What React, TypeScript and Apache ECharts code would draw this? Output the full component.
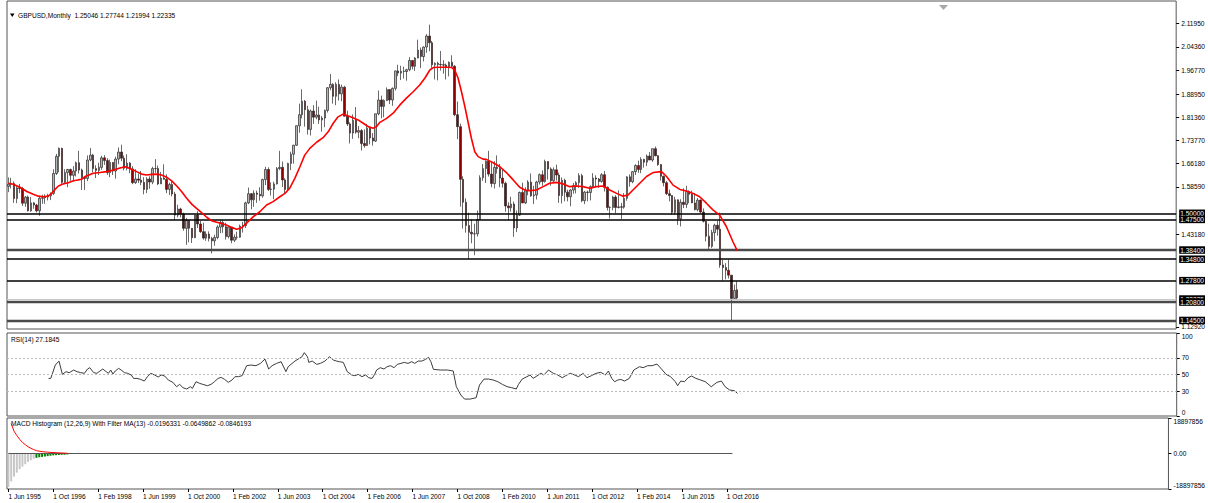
import React, { useEffect, useRef } from 'react';
import * as echarts from 'echarts';

// ---------- DATA (monthly GBPUSD, [open, high, low, close]) ----------
const y1995 = [
  [1.588, 1.617, 1.569, 1.595], [1.595, 1.616, 1.581, 1.597], [1.597, 1.604, 1.534, 1.548],
  [1.548, 1.588, 1.533, 1.583], [1.583, 1.596, 1.566, 1.581], [1.581, 1.586, 1.524, 1.533],
  [1.533, 1.556, 1.521, 1.553],
];
const y1996 = [
  [1.553, 1.558, 1.506, 1.508], [1.508, 1.553, 1.505, 1.534], [1.534, 1.537, 1.515, 1.527],
  [1.527, 1.531, 1.503, 1.508], [1.508, 1.553, 1.492, 1.549], [1.549, 1.561, 1.531, 1.551],
  [1.551, 1.562, 1.531, 1.553], [1.553, 1.564, 1.542, 1.557], [1.557, 1.568, 1.543, 1.565],
  [1.565, 1.644, 1.560, 1.630], [1.630, 1.694, 1.625, 1.686], [1.686, 1.715, 1.634, 1.712],
];
const y1997 = [
  [1.712, 1.714, 1.596, 1.601], [1.601, 1.644, 1.598, 1.633], [1.633, 1.645, 1.585, 1.643],
  [1.643, 1.646, 1.606, 1.624], [1.624, 1.654, 1.604, 1.638], [1.638, 1.669, 1.620, 1.665],
  [1.665, 1.704, 1.630, 1.641], [1.641, 1.646, 1.576, 1.617], [1.617, 1.620, 1.576, 1.614],
  [1.614, 1.689, 1.605, 1.674], [1.674, 1.713, 1.670, 1.690], [1.690, 1.694, 1.634, 1.646],
];
const y1998 = [
  [1.646, 1.657, 1.615, 1.640], [1.640, 1.665, 1.625, 1.650], [1.650, 1.688, 1.642, 1.681],
  [1.681, 1.690, 1.658, 1.672], [1.672, 1.680, 1.625, 1.633], [1.633, 1.675, 1.618, 1.666],
  [1.666, 1.667, 1.625, 1.638], [1.638, 1.685, 1.613, 1.677], [1.677, 1.715, 1.660, 1.700],
  [1.700, 1.724, 1.670, 1.680], [1.680, 1.689, 1.640, 1.647], [1.647, 1.693, 1.640, 1.664],
];
const y1999 = [
  [1.664, 1.667, 1.631, 1.645], [1.645, 1.654, 1.595, 1.600], [1.600, 1.644, 1.596, 1.612],
  [1.612, 1.630, 1.599, 1.608], [1.608, 1.638, 1.592, 1.601], [1.601, 1.618, 1.562, 1.578],
  [1.578, 1.618, 1.566, 1.612], [1.612, 1.621, 1.580, 1.602], [1.602, 1.652, 1.595, 1.646],
  [1.646, 1.677, 1.632, 1.646], [1.646, 1.656, 1.592, 1.596], [1.596, 1.635, 1.596, 1.615],
];
const y2000 = [
  [1.615, 1.660, 1.610, 1.611], [1.611, 1.627, 1.566, 1.578], [1.578, 1.600, 1.560, 1.594],
  [1.594, 1.603, 1.555, 1.563], [1.563, 1.570, 1.478, 1.494], [1.494, 1.528, 1.487, 1.514],
  [1.514, 1.518, 1.487, 1.498], [1.498, 1.502, 1.443, 1.451], [1.451, 1.485, 1.397, 1.477],
  [1.477, 1.478, 1.405, 1.451], [1.451, 1.451, 1.403, 1.420], [1.420, 1.495, 1.420, 1.494],
];
const y2001 = [
  [1.494, 1.507, 1.452, 1.465], [1.465, 1.475, 1.436, 1.440], [1.440, 1.469, 1.414, 1.419],
  [1.419, 1.441, 1.410, 1.432], [1.432, 1.441, 1.408, 1.418], [1.418, 1.423, 1.369, 1.410],
  [1.410, 1.430, 1.394, 1.421], [1.421, 1.461, 1.415, 1.455], [1.455, 1.478, 1.435, 1.470],
  [1.470, 1.477, 1.436, 1.456], [1.456, 1.469, 1.414, 1.424], [1.424, 1.459, 1.418, 1.455],
];
const y2002 = [
  [1.455, 1.455, 1.402, 1.412], [1.412, 1.431, 1.406, 1.422], [1.422, 1.440, 1.414, 1.422],
  [1.422, 1.463, 1.420, 1.458], [1.458, 1.472, 1.437, 1.460], [1.460, 1.538, 1.452, 1.534],
  [1.534, 1.584, 1.530, 1.564], [1.564, 1.566, 1.513, 1.544], [1.544, 1.575, 1.521, 1.566],
  [1.566, 1.574, 1.534, 1.562], [1.562, 1.585, 1.541, 1.557], [1.557, 1.613, 1.551, 1.610],
];
const y2003 = [
  [1.610, 1.652, 1.592, 1.643], [1.643, 1.650, 1.573, 1.578], [1.578, 1.601, 1.558, 1.579],
  [1.579, 1.603, 1.546, 1.596], [1.596, 1.651, 1.594, 1.646], [1.646, 1.704, 1.641, 1.650],
  [1.650, 1.669, 1.586, 1.609], [1.609, 1.615, 1.565, 1.578], [1.578, 1.665, 1.575, 1.663],
  [1.663, 1.701, 1.641, 1.693], [1.693, 1.724, 1.662, 1.722], [1.722, 1.787, 1.720, 1.786],
];
const y2004 = [
  [1.786, 1.858, 1.763, 1.822], [1.822, 1.905, 1.810, 1.866], [1.866, 1.870, 1.783, 1.838],
  [1.838, 1.851, 1.757, 1.774], [1.774, 1.839, 1.754, 1.834], [1.834, 1.853, 1.792, 1.814],
  [1.814, 1.868, 1.807, 1.821], [1.821, 1.848, 1.792, 1.805], [1.805, 1.818, 1.767, 1.811],
  [1.811, 1.839, 1.781, 1.836], [1.836, 1.912, 1.829, 1.910], [1.910, 1.955, 1.902, 1.921],
];
const y2005 = [
  [1.921, 1.925, 1.858, 1.882], [1.882, 1.928, 1.853, 1.921], [1.921, 1.937, 1.868, 1.890],
  [1.890, 1.920, 1.866, 1.912], [1.912, 1.916, 1.817, 1.817], [1.817, 1.835, 1.785, 1.792],
  [1.792, 1.797, 1.728, 1.762], [1.762, 1.823, 1.743, 1.804], [1.804, 1.847, 1.760, 1.765],
  [1.765, 1.785, 1.745, 1.770], [1.770, 1.775, 1.705, 1.728], [1.728, 1.774, 1.714, 1.721],
];
const y2006 = [
  [1.721, 1.792, 1.720, 1.778], [1.778, 1.780, 1.725, 1.746], [1.746, 1.762, 1.721, 1.736],
  [1.736, 1.825, 1.733, 1.825], [1.825, 1.901, 1.820, 1.870], [1.870, 1.884, 1.810, 1.849],
  [1.849, 1.872, 1.814, 1.868], [1.868, 1.911, 1.867, 1.904], [1.904, 1.905, 1.857, 1.870],
  [1.870, 1.911, 1.851, 1.908], [1.908, 1.966, 1.901, 1.965], [1.965, 1.985, 1.948, 1.958],
];
const y2007 = [
  [1.958, 1.982, 1.935, 1.964], [1.964, 1.979, 1.940, 1.963], [1.963, 1.972, 1.933, 1.969],
  [1.969, 2.010, 1.964, 1.999], [1.999, 2.000, 1.970, 1.980], [1.980, 2.010, 1.965, 2.007],
  [2.007, 2.067, 2.006, 2.033], [2.033, 2.041, 1.974, 2.012], [2.012, 2.045, 1.996, 2.043],
  [2.043, 2.085, 2.024, 2.079], [2.079, 2.116, 2.029, 2.057], [2.057, 2.063, 1.975, 1.985],
];
const y2008 = [
  [1.985, 1.993, 1.937, 1.990], [1.990, 1.995, 1.934, 1.986], [1.986, 2.030, 1.966, 1.985],
  [1.985, 2.000, 1.956, 1.984], [1.984, 1.989, 1.937, 1.978], [1.978, 1.996, 1.947, 1.993],
  [1.993, 2.016, 1.975, 1.980], [1.980, 1.984, 1.817, 1.822], [1.822, 1.865, 1.742, 1.783],
  [1.783, 1.793, 1.522, 1.611], [1.611, 1.621, 1.450, 1.536], [1.536, 1.549, 1.437, 1.460],
];
const y2009 = [
  [1.460, 1.502, 1.350, 1.438], [1.438, 1.481, 1.402, 1.433], [1.433, 1.466, 1.363, 1.433],
  [1.433, 1.509, 1.424, 1.480], [1.480, 1.624, 1.478, 1.616], [1.616, 1.661, 1.606, 1.646],
  [1.646, 1.673, 1.599, 1.670], [1.670, 1.704, 1.620, 1.628], [1.628, 1.666, 1.585, 1.597],
  [1.597, 1.670, 1.581, 1.650], [1.650, 1.689, 1.630, 1.646], [1.646, 1.661, 1.585, 1.615],
];
const y2010 = [
  [1.615, 1.644, 1.584, 1.598], [1.598, 1.603, 1.505, 1.524], [1.524, 1.536, 1.477, 1.518],
  [1.518, 1.554, 1.505, 1.530], [1.530, 1.538, 1.423, 1.452], [1.452, 1.509, 1.439, 1.494],
  [1.494, 1.571, 1.491, 1.568], [1.568, 1.600, 1.534, 1.534], [1.534, 1.585, 1.530, 1.573],
  [1.573, 1.608, 1.559, 1.602], [1.602, 1.630, 1.554, 1.557], [1.557, 1.590, 1.530, 1.560],
];
const y2011 = [
  [1.560, 1.606, 1.545, 1.602], [1.602, 1.630, 1.594, 1.626], [1.626, 1.640, 1.590, 1.604],
  [1.604, 1.675, 1.600, 1.669], [1.669, 1.670, 1.610, 1.645], [1.645, 1.650, 1.590, 1.606],
  [1.606, 1.650, 1.598, 1.642], [1.642, 1.659, 1.607, 1.625], [1.625, 1.633, 1.534, 1.558],
  [1.558, 1.617, 1.532, 1.608], [1.608, 1.613, 1.539, 1.569], [1.569, 1.577, 1.539, 1.554],
];
const y2012 = [
  [1.554, 1.579, 1.523, 1.576], [1.576, 1.599, 1.564, 1.590], [1.590, 1.605, 1.565, 1.600],
  [1.600, 1.631, 1.583, 1.623], [1.623, 1.629, 1.536, 1.541], [1.541, 1.573, 1.530, 1.569],
  [1.569, 1.574, 1.539, 1.568], [1.568, 1.591, 1.542, 1.587], [1.587, 1.631, 1.582, 1.615],
  [1.615, 1.624, 1.588, 1.612], [1.612, 1.615, 1.583, 1.604], [1.604, 1.631, 1.600, 1.626],
];
const y2013 = [
  [1.626, 1.638, 1.571, 1.585], [1.585, 1.587, 1.509, 1.519], [1.519, 1.523, 1.483, 1.519],
  [1.519, 1.557, 1.510, 1.553], [1.553, 1.559, 1.500, 1.519], [1.519, 1.575, 1.516, 1.521],
  [1.521, 1.534, 1.481, 1.520], [1.520, 1.566, 1.515, 1.549], [1.549, 1.621, 1.541, 1.619],
  [1.619, 1.627, 1.587, 1.603], [1.603, 1.638, 1.598, 1.636], [1.636, 1.660, 1.625, 1.656],
];
const y2014 = [
  [1.656, 1.672, 1.632, 1.643], [1.643, 1.683, 1.631, 1.676], [1.676, 1.678, 1.649, 1.667],
  [1.667, 1.692, 1.654, 1.687], [1.687, 1.700, 1.674, 1.674], [1.674, 1.711, 1.668, 1.711],
  [1.711, 1.718, 1.686, 1.688], [1.688, 1.690, 1.655, 1.659], [1.659, 1.661, 1.607, 1.621],
  [1.621, 1.623, 1.588, 1.600], [1.600, 1.605, 1.560, 1.564], [1.564, 1.577, 1.539, 1.558],
];
const y2015 = [
  [1.558, 1.559, 1.495, 1.503], [1.503, 1.554, 1.495, 1.544], [1.544, 1.545, 1.462, 1.482],
  [1.482, 1.546, 1.457, 1.536], [1.536, 1.582, 1.517, 1.529], [1.529, 1.590, 1.517, 1.571],
  [1.571, 1.575, 1.533, 1.562], [1.562, 1.574, 1.533, 1.534], [1.534, 1.566, 1.509, 1.512],
  [1.512, 1.550, 1.506, 1.543], [1.543, 1.545, 1.500, 1.504], [1.504, 1.516, 1.470, 1.474],
];
const y2016 = [
  [1.474, 1.475, 1.408, 1.425], [1.425, 1.466, 1.380, 1.392], [1.392, 1.446, 1.387, 1.437],
  [1.437, 1.466, 1.409, 1.461], [1.461, 1.475, 1.427, 1.448], [1.448, 1.502, 1.322, 1.331],
  [1.331, 1.348, 1.280, 1.323], [1.323, 1.337, 1.284, 1.314], [1.314, 1.349, 1.287, 1.298],
  [1.298, 1.298, 1.145, 1.222], [1.222, 1.267, 1.220, 1.248], [1.25046, 1.27744, 1.21994, 1.22335],
];

// Red moving average: [month index from Jun 1995, price]
const maPoints = [
  [0, 1.598], [1.7, 1.595], [4.1, 1.585], [6.5, 1.571], [8.8, 1.562], [10.6, 1.556], [12.4, 1.554],
  [14.1, 1.556], [15.3, 1.565], [16.5, 1.578], [17.7, 1.589], [19.4, 1.596], [21.2, 1.6], [23, 1.606],
  [24.7, 1.609], [25.9, 1.611], [27.1, 1.62], [28.3, 1.624], [30, 1.631], [32.4, 1.633], [34.8, 1.636],
  [37.1, 1.641], [39.5, 1.648], [41.3, 1.652], [42.4, 1.649], [43.6, 1.644], [45.4, 1.636], [47.2, 1.628],
  [48.9, 1.625], [50.7, 1.627], [52.5, 1.628], [54.2, 1.625], [56, 1.618], [57.8, 1.606], [59.6, 1.589],
  [61.3, 1.571], [63.1, 1.549], [64.9, 1.53], [66.6, 1.516], [68.4, 1.502], [70.2, 1.487], [71.9, 1.476],
  [73.7, 1.471], [75.5, 1.467], [77.2, 1.462], [79, 1.454], [80.8, 1.448], [82.6, 1.453], [84.3, 1.468],
  [86.7, 1.489], [89, 1.505], [91.4, 1.527], [93.7, 1.538], [96.1, 1.554], [97.9, 1.565], [99.6, 1.582],
  [101.4, 1.614], [103.2, 1.652], [104.9, 1.69], [106.7, 1.712], [109.1, 1.732], [111.4, 1.747],
  [113.2, 1.766], [115, 1.794], [116.7, 1.815], [118.5, 1.824], [120.3, 1.818], [122, 1.812],
  [123.8, 1.805], [125.6, 1.794], [127.4, 1.783], [129.1, 1.778], [130.3, 1.783], [131.5, 1.797],
  [133.9, 1.81], [136.2, 1.827], [138.6, 1.854], [140.9, 1.876], [143.3, 1.897], [145.6, 1.919],
  [147.4, 1.941], [149.2, 1.968], [150.4, 1.976], [152.7, 1.977], [155.1, 1.977], [156.9, 1.976],
  [158, 1.968], [159.2, 1.941], [160.4, 1.897], [161.6, 1.848], [162.7, 1.799], [163.9, 1.745],
  [165.1, 1.701], [166.3, 1.685], [168, 1.677], [169.2, 1.676], [171.6, 1.665], [174, 1.652],
  [176.3, 1.633], [178.7, 1.609], [181, 1.585], [182.8, 1.576], [184.6, 1.574], [186.9, 1.576],
  [189.3, 1.587], [191.6, 1.598], [194, 1.601], [196.4, 1.596], [198.7, 1.587], [201.1, 1.589],
  [203.4, 1.587], [205.8, 1.582], [208.2, 1.587], [210.5, 1.589], [212.9, 1.576], [215.3, 1.565],
  [217.6, 1.556], [219.4, 1.56], [221.1, 1.576], [223.5, 1.598], [225.9, 1.62], [228.2, 1.633],
  [231.2, 1.636], [233, 1.62], [235.3, 1.592], [237.7, 1.578], [240, 1.573], [242.4, 1.565],
  [244.7, 1.554], [247.1, 1.533], [249.4, 1.511], [251.8, 1.494], [254.2, 1.456], [256.5, 1.407],
  [258, 1.378],
];

// RSI(14): [month index, value]
const rsiPoints = [
  [14.2, 45.3], [15, 45.3], [16.6, 61.4], [17.9, 66.2], [19.1, 50.2], [20.4, 53.4], [21.5, 52.2],
  [23.1, 55.4], [24.3, 53.4], [25.6, 52.2], [26.9, 51.4], [28, 56.6], [28.8, 58.2], [30.2, 52.2],
  [31.3, 51.4], [32.4, 54.2], [33.4, 56.6], [34.6, 53.4], [35.4, 51.4], [36.2, 55.4], [37, 50.6],
  [37.8, 54.2], [39, 57.4], [39.9, 55.4], [41.1, 52.2], [42.2, 51.4], [43.5, 49.4], [44.3, 45.3],
  [45.5, 45.3], [46.8, 44.1], [48.1, 42.1], [49.2, 47.4], [50.4, 51.4], [51.7, 49.4], [53, 47],
  [54.1, 49.4], [55.3, 48.2], [56.6, 43.3], [58.2, 40.5], [59.5, 35.3], [60.6, 38.1], [61.8, 34.1],
  [63.1, 32.5], [64.4, 35.3], [65.1, 33.3], [66.4, 41.3], [67.7, 39.3], [68.8, 38.1], [70.4, 36.5],
  [71.7, 38.1], [72.9, 41.3], [74.2, 45.3], [75.3, 46.5], [76.5, 44.1], [77.8, 40.5], [79.1, 43.3],
  [80.2, 47.4], [81.4, 47.4], [82.7, 48.6], [84.3, 60.6], [85.9, 61.4], [87.6, 60.6], [89.2, 63.4],
  [90.8, 68.6], [92.1, 56.6], [93.3, 60.6], [94.9, 63.4], [96.5, 65.4], [98.2, 53.4], [99, 59.4],
  [101.4, 66.2], [103.9, 71.4], [104.7, 76.3], [105.8, 71.4], [106.3, 64.6], [107.5, 66.2],
  [109.1, 62.2], [110.4, 63.4], [112, 66.2], [113.6, 71.4], [115, 67.4], [116.1, 66.2], [117.2, 65.4],
  [118.5, 64.6], [119.9, 53.4], [121.5, 49.4], [122.6, 48.6], [123.8, 50.2], [125.1, 47.4],
  [126.4, 49.4], [127.5, 46.1], [128.7, 45.3], [129.6, 50.2], [130.3, 55.4], [131.6, 58.2],
  [132.9, 56.6], [134, 59.4], [135.2, 60.6], [136.5, 58.2], [137.6, 62.2], [138.9, 63.4],
  [140.1, 64.6], [141.4, 63.4], [142.7, 65.4], [143.8, 63.4], [145, 66.2], [146.3, 66.2],
  [147.6, 68.2], [148.7, 70.6], [149.5, 65.4], [150.4, 56.2], [152.8, 55.4], [155.3, 55.4],
  [157.4, 54.2], [158.5, 35.3], [160.1, 25.3], [161.4, 20.4], [163.4, 20.4], [165.5, 22],
  [166.7, 37.3], [168.3, 44.5], [169.9, 44.5], [171.6, 43.3], [173.2, 41.3], [174.8, 38.1],
  [176.5, 35.3], [178.1, 34.1], [179.7, 32.5], [180.5, 38.1], [181.8, 44.5], [183.5, 47.4],
  [184.6, 49.4], [185.7, 45.3], [187, 48.2], [188.4, 51.4], [189.5, 49.4], [191.1, 55.4],
  [192.8, 51.4], [194.4, 49.4], [196, 46.1], [197.2, 48.6], [198.8, 51.4], [200.4, 49.4],
  [201.7, 47.4], [203.4, 51.4], [204.7, 46.1], [206.3, 48.6], [207.9, 51.4], [209.6, 52.6],
  [211.2, 49.4], [212.3, 54.2], [213.5, 45.3], [214.5, 41.3], [215.6, 43.3], [216.7, 44.1],
  [218, 42.1], [219.7, 45.3], [221.3, 55.4], [223.3, 59.4], [224.6, 58.2], [226.2, 60.6],
  [227.8, 60.6], [229.5, 62.6], [231.1, 56.6], [232.7, 50.2], [234.3, 47.4], [236, 41.3],
  [236.8, 36.5], [237.9, 42.1], [239.2, 41.3], [240.5, 46.1], [241.7, 48.2], [243.3, 45.3],
  [245, 43.3], [246.6, 41.3], [248.7, 35.3], [250.7, 40.5], [252.3, 42.1], [253.6, 35.3],
  [255.2, 31.3], [256.9, 30.5], [258, 27.2],
];

// MACD histogram pane (values in millions)
const macdHistM = [
  -17.8, -14.9, -12.3, -10.2, -8.3, -7.0, -5.7, -4.5, -3.6, -2.8,
  -2.3, -2.0, -1.8, -1.6, -1.4, -1.2, -1.0, -0.9, -0.8, -0.7, -0.6, -0.5,
];
const macdGreenFrom = 10;
const macdRedM = [
  [1, 16.0], [2, 11.9], [3, 9.6], [4, 7.6], [5, 5.9], [6, 4.7], [7, 3.6], [8, 2.8], [9, 2.1],
  [10, 1.5], [12, 1.0], [14, 0.7], [17, 0.4], [20, 0.2], [21, 0.1],
];
const MACD_LIMIT = 18897856;

// Horizontal levels
const blackLevels = [1.5, 1.475, 1.348, 1.278];
const greyLevels = [1.384, 1.208, 1.145];
const bidLevel = 1.22335;

// Tick labels
const priceTicks = [2.1195, 2.0436, 1.9677, 1.8895, 1.8136, 1.7377, 1.6618, 1.5859, 1.4318, 1.1292];
const rsiTicks = [0, 30, 50, 70, 100];
const rsiLevels = [30, 50, 70];
const dateTickLabels = [
  '1 Jun 1995', '1 Oct 1996', '1 Feb 1998', '1 Jun 1999', '1 Oct 2000', '1 Feb 2002',
  '1 Jun 2003', '1 Oct 2004', '1 Feb 2006', '1 Jun 2007', '1 Oct 2008', '1 Feb 2010',
  '1 Jun 2011', '1 Oct 2012', '1 Feb 2014', '1 Jun 2015', '1 Oct 2016',
];
const DATE_TICK_STEP = 16; // months between date labels

const TITLE_MAIN = 'GBPUSD,Monthly  1.25046 1.27744 1.21994 1.22335';
const TITLE_RSI = 'RSI(14) 27.1845';
const TITLE_MACD = 'MACD Histogram (12,26,9) With Filter MA(13) -0.0196331 -0.0649862 -0.0846193';

// ---------- LAYOUT ----------
const FONT = "'Liberation Sans', Arial, sans-serif";
const FS = 6.6;
const GRID_LEFT = 7;
const GRID_RIGHT = 31.3;
const X_MIN = -0.495;
const X_MAX = 413.4;

export default function App() {
  const ref = useRef<HTMLDivElement>(null);

  useEffect(() => {
    if (!ref.current) return;
    const chart = echarts.init(ref.current, undefined, { renderer: 'svg' });

    const ohlc = [
      ...y1995, ...y1996, ...y1997, ...y1998, ...y1999, ...y2000, ...y2001, ...y2002,
      ...y2003, ...y2004, ...y2005, ...y2006, ...y2007, ...y2008, ...y2009, ...y2010,
      ...y2011, ...y2012, ...y2013, ...y2014, ...y2015, ...y2016,
    ];
    const candleData = ohlc.map((d, i) => [i, d[0], d[3], d[2], d[1]]);
    const dateTicks = dateTickLabels.map((_, i) => i * DATE_TICK_STEP);

    const levelLine = (v: number, color: string, width: number) => ({
      yAxis: v,
      lineStyle: { color, width, type: 'solid' },
      label: {
        show: true,
        position: 'end',
        distance: 3,
        formatter: v.toFixed(5),
        backgroundColor: '#000',
        color: '#fff',
        padding: [0, 1, 0, 1],
        lineHeight: 7.5,
        fontSize: FS,
        fontFamily: FONT,
      },
    });

    const xAxisBase = (gridIndex: number) => ({
      type: 'value',
      gridIndex,
      min: X_MIN,
      max: X_MAX,
      show: gridIndex === 2,
      position: 'bottom',
      splitLine: { show: false },
      axisLine: { show: false, onZero: false },
      axisTick: { show: true, customValues: dateTicks, length: 3, lineStyle: { color: '#000' } },
      axisLabel: {
        customValues: dateTicks,
        formatter: (v: number) => dateTickLabels[Math.round(v / DATE_TICK_STEP)] ?? '',
        align: 'left',
        margin: 4,
        fontSize: FS,
        color: '#000',
        fontFamily: FONT,
      },
    });

    const yAxisBase = (gridIndex: number, min: number, max: number, ticks: number[], fmt: (v: number) => string) => ({
      type: 'value', gridIndex, position: 'right', min, max,
      splitLine: { show: false }, axisLine: { show: false, onZero: false },
      axisTick: { show: true, customValues: ticks, length: 3, lineStyle: { color: '#000' } },
      axisLabel: {
        customValues: ticks, formatter: fmt,
        fontSize: FS, margin: 5, color: '#000', fontFamily: FONT,
        verticalAlignMaxLabel: gridIndex === 0 ? 'middle' : 'top',
        verticalAlignMinLabel: gridIndex === 0 ? 'middle' : 'bottom',
      },
    });

    const option: any = {
      animation: false,
      backgroundColor: '#fff',
      textStyle: { fontFamily: FONT },
      grid: [
        { left: GRID_LEFT, right: GRID_RIGHT, top: 1, height: 328, show: true, borderColor: '#555', borderWidth: 1 },
        { left: GRID_LEFT, right: GRID_RIGHT, top: 333, height: 83, show: true, borderColor: '#555', borderWidth: 1 },
        { left: GRID_LEFT, right: GRID_RIGHT, top: 418, height: 71, show: true, borderColor: '#555', borderWidth: 1 },
      ],
      xAxis: [xAxisBase(0), xAxisBase(1), xAxisBase(2)],
      yAxis: [
        yAxisBase(0, 1.1221, 2.1933, priceTicks, (v) => v.toFixed(5)),
        yAxisBase(1, 0, 100, rsiTicks, (v) => String(v)),
        yAxisBase(2, -MACD_LIMIT, MACD_LIMIT, [-MACD_LIMIT, 0, MACD_LIMIT],
          (v) => (v === 0 ? '0.00' : String(Math.round(v)))),
      ],
      series: [
        {
          type: 'candlestick',
          xAxisIndex: 0,
          yAxisIndex: 0,
          data: candleData,
          barWidth: 2,
          itemStyle: {
            color: '#b4b4b4', color0: '#8b0000',
            borderColor: '#2a2a2a', borderColor0: '#2a2a2a', borderWidth: 0.7,
          },
          z: 2,
          markLine: {
            silent: true,
            symbol: ['none', 'none'],
            z: 3,
            data: [
              levelLine(bidLevel, '#c8c8c8', 1),
              ...blackLevels.map((v) => levelLine(v, '#000', 1.6)),
              ...greyLevels.map((v) => levelLine(v, '#4a4a4a', 2.4)),
            ],
          },
        },
        {
          type: 'line',
          xAxisIndex: 0,
          yAxisIndex: 0,
          data: maPoints,
          showSymbol: false,
          symbol: 'none',
          lineStyle: { color: '#ff0000', width: 1.6 },
          z: 4,
        },
        {
          type: 'line',
          xAxisIndex: 1,
          yAxisIndex: 1,
          data: rsiPoints,
          showSymbol: false,
          symbol: 'none',
          lineStyle: { color: '#3c3c3c', width: 1 },
          markLine: {
            silent: true,
            symbol: ['none', 'none'],
            label: { show: false },
            lineStyle: { color: '#bdbdbd', width: 1, type: [2, 2] },
            data: rsiLevels.map((v) => ({ yAxis: v })),
          },
        },
        {
          type: 'bar',
          xAxisIndex: 2,
          yAxisIndex: 2,
          barWidth: 2,
          data: macdHistM.map((v, i) => ({
            value: [i, v * 1e6],
            itemStyle: { color: i >= macdGreenFrom ? '#008000' : '#c8c8c8' },
          })),
        },
        {
          type: 'line',
          xAxisIndex: 2,
          yAxisIndex: 2,
          data: [[0, 0], [ohlc.length - 1, 0]],
          showSymbol: false,
          symbol: 'none',
          lineStyle: { color: '#555', width: 1 },
          z: 3,
        },
        {
          type: 'line',
          xAxisIndex: 2,
          yAxisIndex: 2,
          data: macdRedM.map(([i, v]) => [i, v * 1e6]),
          showSymbol: false,
          symbol: 'none',
          lineStyle: { color: '#ff0000', width: 1 },
          z: 4,
        },
      ],
      graphic: [
        { type: 'polygon', shape: { points: [[10, 13.5], [14.5, 13.5], [12.25, 17]] }, style: { fill: '#000' } },
        { type: 'polygon', shape: { points: [[939, 5], [948, 5], [943.5, 10]] }, style: { fill: '#a8a8a8' } },
        {
          type: 'text', x: 18, y: 15.5,
          style: { text: TITLE_MAIN, fontSize: FS, fontFamily: FONT, fill: '#000', verticalAlign: 'middle' },
        },
        {
          type: 'text', x: 11, y: 339.3,
          style: { text: TITLE_RSI, fontSize: FS, fontFamily: FONT, fill: '#000', verticalAlign: 'middle' },
        },
        {
          type: 'text', x: 11, y: 423.5,
          style: { text: TITLE_MACD, fontSize: FS, fontFamily: FONT, fill: '#000', verticalAlign: 'middle' },
        },
      ],
    };

    chart.setOption(option);
    return () => chart.dispose();
  }, []);

  return (
    <div
      ref={ref}
      style={{ position: 'absolute', left: 0, top: 0, width: 1208, height: 503, background: '#fff' }}
    />
  );
}
